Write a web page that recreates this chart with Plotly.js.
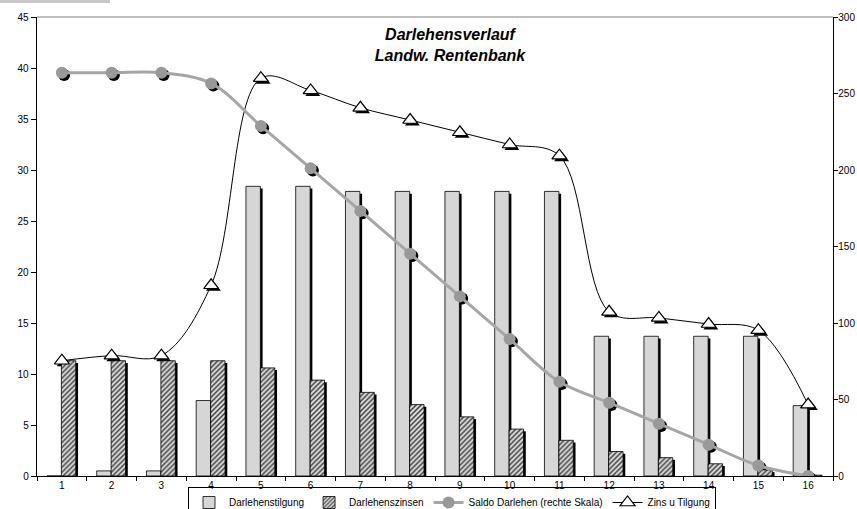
<!DOCTYPE html>
<html><head><meta charset="utf-8">
<script src="https://cdn.plot.ly/plotly-3.0.1.min.js"></script>
<style>html,body{margin:0;padding:0;background:#fff;}#chart{width:857px;height:509px;}</style>
</head><body><div id="chart"></div>
<script>
// ---- data ----
const jahre = ["1","2","3","4","5","6","7","8","9","10","11","12","13","14","15","16"];
const tilgung = [0, 0.5, 0.5, 7.4, 28.4, 28.4, 27.9, 27.9, 27.9, 27.9, 27.9, 13.7, 13.7, 13.7, 13.7, 6.9];
const zinsen  = [11.3, 11.3, 11.3, 11.3, 10.6, 9.4, 8.2, 7.0, 5.8, 4.6, 3.5, 2.4, 1.8, 1.2, 0.6, 0.08];
const zinsTilgung = [11.3, 11.8, 11.8, 18.7, 39.0, 37.8, 36.1, 34.9, 33.7, 32.5, 31.4, 16.1, 15.5, 14.9, 14.3, 7.0];
const saldo = [263.6, 263.6, 263.6, 256.6, 228.8, 201.1, 173.2, 145.3, 117.4, 89.5, 61.6, 47.9, 34.2, 20.5, 6.8, 0];
const leftTicks = [0,5,10,15,20,25,30,35,40,45];
const rightTicks = [0,50,100,150,200,250,300];

// ---- style ----
const FONT = "Liberation Sans, Arial, sans-serif";
const dx = 0.045, dyL = 0.22, dyR = 1.45;
const W = 0.29, offT = -0.30, offZ = -0.01;

const traces = [];
// shadows (base subplot, shifted ranges)
traces.push({type:"bar", x:jahre, y:tilgung, xaxis:"x", yaxis:"y", width:W, offset:offT,
  marker:{color:"#000", line:{width:0}}, showlegend:false, hoverinfo:"skip"});
traces.push({type:"bar", x:jahre, y:zinsen, xaxis:"x", yaxis:"y", width:W, offset:offZ,
  marker:{color:"#000", line:{width:0}}, showlegend:false, hoverinfo:"skip"});
traces.push({type:"scatter", mode:"markers", x:jahre, y:zinsTilgung, xaxis:"x", yaxis:"y",
  marker:{symbol:"triangle-up", size:13, color:"#000"}, showlegend:false, hoverinfo:"skip"});
traces.push({type:"scatter", mode:"markers", x:jahre, y:saldo, xaxis:"x", yaxis:"y2",
  marker:{symbol:"circle", size:12, color:"#000"}, showlegend:false, hoverinfo:"skip"});
// main
traces.push({type:"bar", name:"Darlehenstilgung", x:jahre, y:tilgung, xaxis:"x2", yaxis:"y3",
  width:W, offset:offT, marker:{color:"#d6d6d6", line:{color:"#000", width:0.8}}});
traces.push({type:"bar", name:"Darlehenszinsen", x:jahre, y:zinsen, xaxis:"x2", yaxis:"y3",
  width:W, offset:offZ, marker:{color:"#fff", line:{color:"#000", width:0.8},
  pattern:{shape:"/", fgcolor:"#333", bgcolor:"#e0e0e0", size:3.5, solidity:0.4}}});
traces.push({type:"scatter", mode:"lines+markers", name:"Saldo Darlehen (rechte Skala)", x:jahre, y:saldo,
  xaxis:"x2", yaxis:"y4", line:{color:"#a6a6a6", width:3, shape:"spline"},
  marker:{symbol:"circle", size:12, color:"#999"}});
traces.push({type:"scatter", mode:"lines+markers", name:"Zins u Tilgung", x:jahre, y:zinsTilgung,
  xaxis:"x2", yaxis:"y3", line:{color:"#000", width:1, shape:"spline"},
  marker:{symbol:"triangle-up", size:13, color:"#fff", line:{color:"#000", width:1.2}}});

const tickFont = {family:FONT, size:10, color:"#000"};
const layout = {
  width:857, height:509,
  margin:{l:37, r:24, t:17, b:33, autoexpand:false},
  paper_bgcolor:"#fff", plot_bgcolor:"#fff",
  font:{family:FONT, size:10, color:"#000"},
  barmode:"overlay",
  showlegend:true,
  title:{text:"<b><i>Darlehensverlauf<br>Landw. Rentenbank</i></b>", font:{family:FONT, size:16, color:"#000"},
    x:450/857, xanchor:"center", xref:"container", y:1-40/509, yanchor:"middle", yref:"container"},
  xaxis:{type:"category", range:[-0.5-dx, 15.5-dx], visible:false, fixedrange:true},
  yaxis:{range:[0+dyL, 45+dyL], visible:false},
  yaxis2:{range:[0+dyR, 300+dyR], visible:false, overlaying:"y", side:"right"},
  xaxis2:{type:"category", overlaying:"x", range:[-0.5, 15.5], anchor:"y3", side:"bottom",
    tickson:"boundaries", ticks:"outside", ticklen:4, tickwidth:1, tickcolor:"#000",
    showline:true, linecolor:"#000", linewidth:1.3, showgrid:false, zeroline:false, tickfont:tickFont},
  xaxis3:{type:"category", overlaying:"x", range:[-0.5, 15.5], anchor:"y3", side:"bottom",
    tickvals:jahre, tickson:"boundaries", ticks:"inside", ticklen:4, tickcolor:"#000", showticklabels:false,
    showline:false, showgrid:false, zeroline:false},
  yaxis3:{overlaying:"y", range:[0,45], anchor:"x2", side:"left", tickvals:leftTicks,
    ticks:"outside", ticklen:5, tickcolor:"#000", showline:true, linecolor:"#000", linewidth:1.3,
    showgrid:false, zeroline:false, tickfont:tickFont},
  yaxis4:{overlaying:"y", range:[0,300], anchor:"x2", side:"right", tickvals:rightTicks,
    ticks:"outside", ticklen:4, tickcolor:"#000", showline:true, linecolor:"#000", linewidth:1.3,
    showgrid:false, zeroline:false, tickfont:tickFont, ticklabelstandoff:-2},
  legend:{orientation:"h", x:(188-37)/796, xanchor:"left", y:(476-487)/459, yanchor:"top",
    bordercolor:"#000", borderwidth:1, bgcolor:"rgba(255,255,255,0)", font:{family:FONT, size:10, color:"#000"},
    itemwidth:30, tracegroupgap:0, traceorder:"normal"},
  shapes:[
    {type:"line", xref:"paper", yref:"paper", x0:0, x1:1, y0:1, y1:1, line:{color:"#808080", width:1}},
    {type:"rect", xref:"paper", yref:"paper", x0:-37/796, x1:(110-37)/796, y0:1+14/459, y1:1+17/459,
      fillcolor:"#c8c8c8", line:{width:0}}
  ]
};
Plotly.newPlot("chart", traces, layout, {displayModeBar:false, staticPlot:true});
</script></body></html>
